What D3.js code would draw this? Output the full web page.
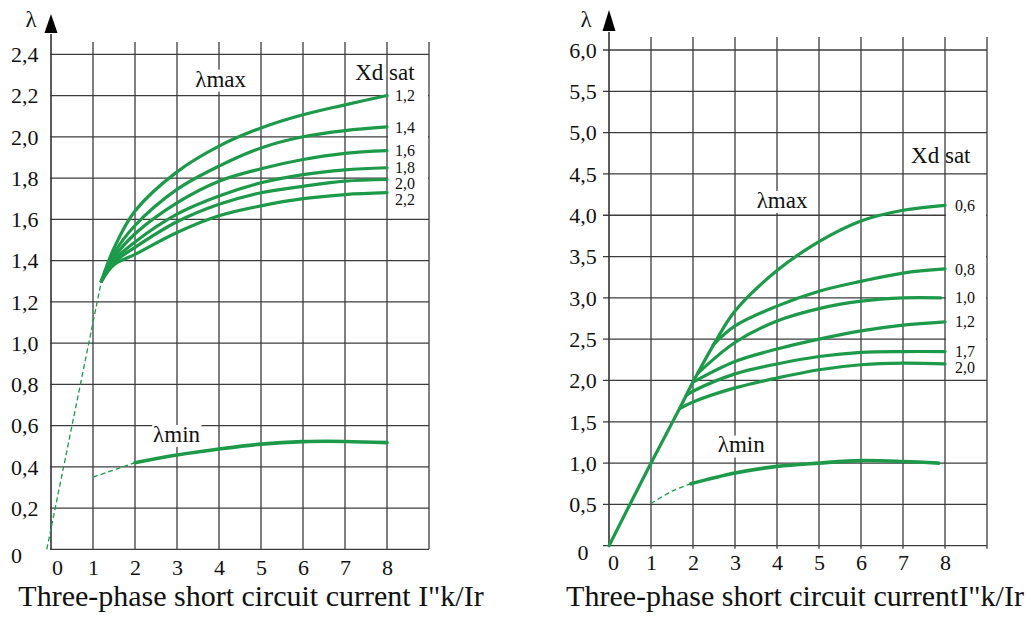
<!DOCTYPE html>
<html><head><meta charset="utf-8">
<script src="https://cdn.jsdelivr.net/npm/d3@7"></script>
<style>html,body{margin:0;padding:0;background:#fff;} svg{display:block;}</style>
</head><body>
<svg id="chart" width="1026" height="617"></svg>
<script>
// ---------- DATA ----------
const xTicks = [0, 1, 2, 3, 4, 5, 6, 7, 8];
const xTickLabels = ["0", "1", "2", "3", "4", "5", "6", "7", "8"];

const leftYTicks = [0, 0.2, 0.4, 0.6, 0.8, 1.0, 1.2, 1.4, 1.6, 1.8, 2.0, 2.2, 2.4];
const leftYTickLabels = ["0", "0,2", "0,4", "0,6", "0,8", "1,0", "1,2", "1,4", "1,6", "1,8", "2,0", "2,2", "2,4"];
const rightYTicks = [0, 0.5, 1.0, 1.5, 2.0, 2.5, 3.0, 3.5, 4.0, 4.5, 5.0, 5.5, 6.0];
const rightYTickLabels = ["0", "0,5", "1,0", "1,5", "2,0", "2,5", "3,0", "3,5", "4,0", "4,5", "5,0", "5,5", "6,0"];

// Left panel: lambda max curves for each Xd sat
const leftXdSat = ["1,2", "1,4", "1,6", "1,8", "2,0", "2,2"];
const leftMaxX = [1.2, 1.5, 2, 3, 4, 5, 6, 7, 8];
const leftMax12 = [1.30, 1.46, 1.64, 1.83, 1.955, 2.043, 2.107, 2.155, 2.20];
const leftMax14 = [1.30, 1.435, 1.57, 1.745, 1.858, 1.946, 2.000, 2.030, 2.048];
const leftMax16 = [1.30, 1.415, 1.53, 1.680, 1.785, 1.845, 1.890, 1.920, 1.933];
const leftMax18 = [1.30, 1.40, 1.49, 1.625, 1.713, 1.777, 1.817, 1.840, 1.850];
const leftMax20 = [1.30, 1.39, 1.464, 1.588, 1.673, 1.729, 1.760, 1.785, 1.793];
const leftMax22 = [1.30, 1.38, 1.43, 1.536, 1.617, 1.665, 1.700, 1.720, 1.729];
const leftStartDashX = [-0.1, 1.2];
const leftStartDashY = [0, 1.3];
const leftMinX = [2, 3, 4, 5, 6, 7, 8];
const leftMinY = [0.42, 0.457, 0.486, 0.51, 0.522, 0.523, 0.517];
const leftMinDashX = [1.0, 2.0];
const leftMinDashY = [0.35, 0.42];

// Right panel
const rightXdSat = ["0,6", "0,8", "1,0", "1,2", "1,7", "2,0"];
const rightMax06X = [0, 1, 1.7, 2, 2.5, 3, 4, 5, 6, 7, 8];
const rightMax06Y = [0, 1.0, 1.68, 1.98, 2.44, 2.84, 3.33, 3.68, 3.93, 4.06, 4.12];
const rightMax08X = [2.48, 3, 4, 5, 6, 7, 8];
const rightMax08Y = [2.43, 2.66, 2.90, 3.08, 3.20, 3.30, 3.35];
const rightMax10X = [2.12, 3, 4, 5, 6, 7, 7.9];
const rightMax10Y = [2.09, 2.46, 2.72, 2.87, 2.96, 3.0, 3.0];
const rightMax12X = [2.0, 3, 4, 5, 6, 7, 8];
const rightMax12Y = [1.98, 2.23, 2.38, 2.50, 2.60, 2.67, 2.71];
const rightMax17X = [1.84, 2, 3, 4, 5, 6, 7, 8];
const rightMax17Y = [1.82, 1.87, 2.08, 2.20, 2.29, 2.34, 2.35, 2.35];
const rightMax20X = [1.68, 2, 3, 4, 5, 6, 7, 8];
const rightMax20Y = [1.66, 1.74, 1.91, 2.03, 2.13, 2.19, 2.21, 2.20];
const rightMinX = [1.95, 3, 4, 5, 6, 7, 7.85];
const rightMinY = [0.75, 0.88, 0.96, 1.0, 1.03, 1.02, 1.0];
const rightMinDashX = [1.0, 1.5, 1.95];
const rightMinDashY = [0.51, 0.66, 0.75];

const axisSymbol = "λ";
const maxLabel = "λmax";
const minLabel = "λmin";
const xdSatTitle = "Xd sat";
const xTitleLeft = "Three-phase short circuit current I\"k/Ir";
const xTitleRight = "Three-phase short circuit currentI\"k/Ir";

// ---------- DRAWING ----------
const FONT = "'Liberation Serif', 'Times New Roman', serif";
const GREEN = "#1d9a49";
const GRID = "#3c3c3c";
const TXT = "#111";
const svg = d3.select("#chart");
const zip = (xs, ys) => xs.map((v, i) => [v, ys[i]]);

function panel(cfg) {
  const g = svg.append("g");
  const x = d3.scaleLinear().domain([0, 9]).range(cfg.xRange);
  const y = d3.scaleLinear().domain(cfg.yDomain).range(cfg.yRange);

  // vertical grid
  g.append("g").selectAll("line").data(d3.range(1, 10)).join("line")
    .attr("x1", d => x(d)).attr("x2", d => x(d))
    .attr("y1", cfg.gridTop).attr("y2", y(0) + cfg.gridBottomExt)
    .attr("stroke", GRID).attr("stroke-width", 1.3);
  // horizontal grid
  g.append("g").selectAll("line").data(cfg.yTicks).join("line")
    .attr("x1", x(0) - cfg.hLeftExt).attr("x2", x(9))
    .attr("y1", d => y(d)).attr("y2", d => y(d))
    .attr("stroke", GRID).attr("stroke-width", 1.3);
  // y axis line + arrow
  g.append("line").attr("x1", x(0)).attr("x2", x(0))
    .attr("y1", y(0)).attr("y2", cfg.arrowBase + 1)
    .attr("stroke", "#333").attr("stroke-width", 1.6);
  g.append("path")
    .attr("d", `M${x(0)},${cfg.arrowTip}L${x(0) - 6.5},${cfg.arrowBase}L${x(0) + 6.5},${cfg.arrowBase}Z`)
    .attr("fill", "#000");
  g.append("text").text(axisSymbol)
    .attr("x", x(0) + cfg.lambdaDx).attr("y", 27)
    .attr("text-anchor", "middle").attr("font-family", FONT).attr("font-size", 23).attr("fill", TXT);

  // y tick labels via axis
  const ya = g.append("g").attr("transform", `translate(${x(0)},0)`)
    .call(d3.axisLeft(y).tickValues(cfg.yTicks).tickSize(0)
      .tickFormat((d, i) => cfg.yLabels[i]));
  ya.select(".domain").remove();
  ya.selectAll("text")
    .attr("font-family", FONT).attr("font-size", 22).attr("fill", TXT)
    .attr("text-anchor", cfg.yAnchor)
    .attr("x", cfg.yLabelX - x(0))
    .attr("dy", d => d === 0 ? "0.62em" : "0.33em");

  // x tick labels via axis
  const xa = g.append("g").attr("transform", `translate(0,${y(0)})`)
    .call(d3.axisBottom(x).tickValues(xTicks).tickSize(0)
      .tickFormat((d, i) => xTickLabels[i]));
  xa.select(".domain").remove();
  xa.selectAll("text")
    .attr("font-family", FONT).attr("font-size", 22).attr("fill", TXT)
    .attr("y", cfg.xLabelPad)
    .attr("dx", d => d === 0 ? cfg.zeroDx : 0);

  // x title
  g.append("text").text(cfg.title)
    .attr("x", cfg.titleX).attr("y", 606)
    .attr("text-anchor", "middle").attr("font-family", FONT).attr("font-size", 30).attr("fill", TXT);

  const line = d3.line().x(d => x(d[0])).y(d => y(d[1])).curve(d3.curveCatmullRom.alpha(0.5));

  // white block behind Xd sat labels (hides the grid in that column)
  let ly = cfg.series.map(s => y(s.pts[s.pts.length - 1][1]));
  for (let i = 1; i < ly.length; i++) if (ly[i] < ly[i - 1] + 16) ly[i] = ly[i - 1] + 16;
  g.append("rect")
    .attr("x", x(8) + 1).attr("width", x(9) - x(8) - 2)
    .attr("y", ly[0] - 9).attr("height", ly[ly.length - 1] - ly[0] + 18)
    .attr("fill", "#fff");

  // dashed helper lines
  cfg.dashed.forEach(pts => {
    g.append("path").attr("d", line(pts)).attr("fill", "none")
      .attr("stroke", GREEN).attr("stroke-width", 1.3).attr("stroke-dasharray", "5,3");
  });

  // lambda min
  g.append("path").attr("d", line(cfg.minPts)).attr("fill", "none")
    .attr("stroke", GREEN).attr("stroke-width", 3.6).attr("stroke-linecap", "round");

  // lambda max curves
  g.append("g").selectAll("path").data(cfg.series).join("path")
    .attr("d", s => line(s.pts)).attr("fill", "none")
    .attr("stroke", GREEN).attr("stroke-width", 3.2).attr("stroke-linecap", "round");

  // Xd sat labels
  g.append("g").selectAll("text").data(cfg.series).join("text")
    .text(s => s.name)
    .attr("x", x(8) + cfg.labelDx).attr("y", (s, i) => ly[i]).attr("dy", "0.35em")
    .attr("font-family", FONT).attr("font-size", 16).attr("fill", TXT);

  // annotations
  function note(txt, pos, size, bg) {
    const t = g.append("text").text(txt)
      .attr("x", x(pos[0])).attr("y", y(pos[1])).attr("dy", "0.33em")
      .attr("text-anchor", "middle").attr("font-family", FONT).attr("font-size", size).attr("fill", TXT);
    if (bg) {
      const b = t.node().getBBox();
      g.insert("rect", () => t.node())
        .attr("x", b.x - 1).attr("y", b.y + 3).attr("width", b.width + 2).attr("height", b.height - 3)
        .attr("fill", "#fff");
    }
  }
  note(maxLabel, cfg.maxPos, 23, true);
  note(minLabel, cfg.minPos, 23, true);
  note(xdSatTitle, cfg.xdPos, 23, false);
}

panel({
  xRange: [51, 429], yDomain: [0, 2.4], yRange: [549.3, 54.3],
  yTicks: leftYTicks, yLabels: leftYTickLabels,
  gridTop: 42, gridBottomExt: 0, hLeftExt: 1,
  arrowTip: 14, arrowBase: 33, lambdaDx: -20,
  yAnchor: "start", yLabelX: 11, xLabelPad: 10, zeroDx: 6,
  title: xTitleLeft, titleX: 251,
  labelDx: 8,
  series: [leftMax12, leftMax14, leftMax16, leftMax18, leftMax20, leftMax22]
    .map((ys, i) => ({ name: leftXdSat[i], pts: zip(leftMaxX, ys) })),
  dashed: [zip(leftStartDashX, leftStartDashY), zip(leftMinDashX, leftMinDashY)],
  minPts: zip(leftMinX, leftMinY),
  maxPos: [4.04, 2.28], minPos: [2.99, 0.557], xdPos: [7.95, 2.31]
});

panel({
  xRange: [609, 987], yDomain: [0, 6], yRange: [545.7, 50],
  yTicks: rightYTicks, yLabels: rightYTickLabels,
  gridTop: 37, gridBottomExt: 3, hLeftExt: 6,
  arrowTip: 10, arrowBase: 31, lambdaDx: -23,
  yAnchor: "middle", yLabelX: 583, xLabelPad: 9, zeroDx: 4,
  title: xTitleRight, titleX: 795,
  labelDx: 10,
  series: [
    { name: rightXdSat[0], pts: zip(rightMax06X, rightMax06Y) },
    { name: rightXdSat[1], pts: zip(rightMax08X, rightMax08Y) },
    { name: rightXdSat[2], pts: zip(rightMax10X, rightMax10Y) },
    { name: rightXdSat[3], pts: zip(rightMax12X, rightMax12Y) },
    { name: rightXdSat[4], pts: zip(rightMax17X, rightMax17Y) },
    { name: rightXdSat[5], pts: zip(rightMax20X, rightMax20Y) }
  ],
  dashed: [zip(rightMinDashX, rightMinDashY)],
  minPts: zip(rightMinX, rightMinY),
  maxPos: [4.12, 4.18], minPos: [3.15, 1.22], xdPos: [7.9, 4.72]
});
</script>
</body></html>
